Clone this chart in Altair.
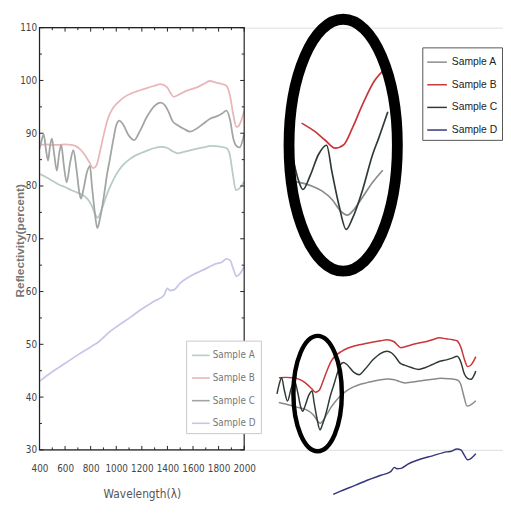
import altair as alt
import pandas as pd

# ---------------- data ----------------
series_names = ["Sample A", "Sample B", "Sample C", "Sample D"]

wl_a = [400, 450, 500, 550, 600, 650, 700, 750, 780, 810, 835, 855, 875, 900, 930, 960,
        1000, 1050, 1100, 1150, 1200, 1250, 1300, 1350, 1400, 1440, 1480, 1520, 1600,
        1680, 1740, 1800, 1860, 1885, 1910, 1935, 1960, 2000]
val_a = [82.3, 81.7, 81.0, 80.3, 79.8, 79.2, 78.7, 78.1, 77.4, 76.2, 74.6, 74.0, 74.8, 76.5,
         78.6, 80.3, 82.2, 83.9, 85.0, 85.8, 86.3, 86.8, 87.2, 87.4, 87.2, 86.6, 86.2, 86.4,
         86.9, 87.3, 87.6, 87.5, 87.2, 86.2, 82.5, 79.2, 79.5, 80.8]

wl_b = [400, 450, 500, 550, 600, 650, 680, 720, 760, 790, 819, 845, 870, 900, 935, 970,
        1012, 1060, 1113, 1180, 1244, 1300, 1345, 1398, 1425, 1449, 1480, 1527, 1580, 1630,
        1680, 1732, 1780, 1830, 1861, 1890, 1915, 1939, 1960, 2000]
val_b = [87.8, 87.9, 87.8, 87.8, 87.9, 87.8, 87.6, 86.9, 85.7, 84.5, 83.4, 83.9, 86.2, 89.5,
         92.8, 94.6, 95.8, 96.8, 97.5, 98.1, 98.6, 99.0, 99.3, 98.7, 97.6, 96.9, 97.2, 97.8,
         98.3, 98.7, 99.3, 99.9, 99.6, 99.3, 99.0, 97.0, 93.5, 91.2, 91.5, 94.2]

wl_c = [400, 415, 433, 450, 467, 482, 497, 515, 536, 553, 570, 590, 613, 640, 665, 690,
        710, 724, 745, 770, 794, 810, 830, 852, 870, 900, 930, 948, 975, 1000, 1025, 1050,
        1100, 1141, 1180, 1244, 1300, 1347, 1380, 1410, 1440, 1475, 1530, 1578, 1630, 1681,
        1730, 1784, 1830, 1861, 1890, 1915, 1939, 1964, 2000]
val_c = [87.0, 88.5, 89.8, 87.0, 84.8, 87.5, 89.0, 86.0, 82.9, 86.0, 87.8, 84.0, 80.7, 84.5,
         86.8, 83.0, 79.0, 77.6, 79.5, 82.5, 83.8, 80.0, 75.5, 72.0, 73.5, 77.5, 82.5, 84.8,
         88.5, 91.5, 92.4, 91.8, 89.5, 88.7, 90.2, 93.3, 95.2, 95.8, 95.3, 94.0, 92.3, 91.6,
         90.8, 90.3, 90.9, 91.8, 92.7, 93.2, 93.8, 94.3, 92.5, 89.0, 87.6, 87.3, 89.8]

wl_d = [400, 500, 601, 700, 800, 858, 950, 1000, 1115, 1200, 1300, 1373, 1400, 1420, 1450,
        1500, 1578, 1681, 1784, 1820, 1861, 1890, 1915, 1939, 1960, 2000]
val_d = [43.0, 44.8, 46.4, 48.0, 49.5, 50.4, 52.4, 53.3, 55.2, 56.7, 58.2, 59.3, 60.6, 60.2,
         60.3, 61.6, 62.9, 64.1, 65.3, 65.5, 66.2, 65.9, 64.3, 62.9, 63.2, 64.7]

x_ticks = [400, 600, 800, 1000, 1200, 1400, 1600, 1800, 2000]
x_minor = [500, 700, 900, 1100, 1300, 1500, 1700, 1900]
y_ticks = [30, 40, 50, 60, 70, 80, 90, 100, 110]
y_minor = [35, 45, 55, 65, 75, 85, 95, 105]

x_domain = [400, 2000]
y_domain = [30, 110]
inset_x_domain = [690, 975]
inset_y_domain = [70, 100]
lower_min_wl = 525
lower_min_wl_d = 950

# highlighted region (ellipse centres, in data units of each panel)
ring_wl = [843]
ring_val = [83.8]
ring2_wl = [835]
ring2_val = [83.0]

# ---------------- layout / style ----------------
PLOT_W, PLOT_H = 471, 429
MAIN_X_RANGE = [0, 208]
MAIN_Y_RANGE = [429, 0]
INSET_X_RANGE = [256, 354]
INSET_Y_RANGE = [219.5, 2]
LOWER_X_RANGE = [222.6, 443.4]
LOWER_Y_RANGE = [549.3, 281.3]

faint_colors = ["#b7cdc1", "#e8b7ba", "#a2a6a2", "#c6c6e9"]
dark_colors = ["#8a8a8a", "#c9353a", "#2e3a32", "#36367c"]
NARROW = "Liberation Sans Narrow, DejaVu Sans Condensed, Liberation Sans, sans-serif"
SANS = "Liberation Sans, Arial, sans-serif"

rows = []
for name, wls, vals in zip(series_names, [wl_a, wl_b, wl_c, wl_d], [val_a, val_b, val_c, val_d]):
    for w, v in zip(wls, vals):
        rows.append({"series": name, "wl": w, "val": v})
df = pd.DataFrame(rows)


def sx(dom, rng):
    return alt.Scale(domain=dom, range=rng, nice=False, zero=False)


sx_main = sx(x_domain, MAIN_X_RANGE)
sy_main = sx(y_domain, MAIN_Y_RANGE)
sx_in = sx(inset_x_domain, INSET_X_RANGE)
sy_in = sx(inset_y_domain, INSET_Y_RANGE)
sx_lo = sx(x_domain, LOWER_X_RANGE)
sy_lo = sx(y_domain, LOWER_Y_RANGE)

# ---------------- main panel ----------------
main_lines = alt.Chart(df).mark_line(strokeWidth=1.8, interpolate="monotone").encode(
    x=alt.X("wl:Q", scale=sx_main,
            axis=alt.Axis(values=x_ticks, format="d", ticks=False, tickSize=0, domain=False,
                          grid=False, labelFlush=False, labelOverlap=False,
                          labelFont=NARROW, labelFontSize=10, labelColor="#444",
                          labelPadding=14, title="Wavelength(λ)", titleFont=NARROW,
                          titleFontSize=12, titleFontWeight="normal", titleColor="#555",
                          titleX=104, titleY=44, titleAlign="center",
                          titleBaseline="middle")),
    y=alt.Y("val:Q", scale=sy_main,
            axis=alt.Axis(values=y_ticks, format="d", ticks=False, tickSize=0, domain=False,
                          grid=False, labelFlush=False, labelOverlap=False,
                          labelFont=NARROW, labelFontSize=10, labelColor="#444",
                          labelPadding=3, title="Reflectivity(percent)", titleFont=SANS,
                          titleFontSize=12, titleFontWeight="bold", titleColor="#777",
                          titleX=-20, titleY=216, titleAlign="center",
                          titleBaseline="middle")),
    color=alt.Color("series:N", scale=alt.Scale(domain=series_names, range=faint_colors),
                    legend=alt.Legend(orient="none", legendX=149, legendY=318, title=None,
                                      symbolType="stroke", symbolSize=324,
                                      symbolStrokeWidth=1.6, labelFont=NARROW,
                                      labelFontSize=10, labelColor="#777", labelOffset=2,
                                      rowPadding=8, padding=5, strokeColor="#c8c8c8",
                                      fillColor="white")),
)

frame_df = pd.DataFrame({"x0": [x_domain[0]], "x1": [x_domain[1]],
                         "y0": [y_domain[0]], "y1": [y_domain[1]]})
frame = alt.Chart(frame_df).mark_rect(fillOpacity=0, stroke="#222", strokeWidth=1.2).encode(
    x=alt.X("x0:Q", scale=sx_main, axis=None), x2="x1:Q",
    y=alt.Y("y0:Q", scale=sy_main, axis=None), y2="y1:Q",
)

px_per_val = (MAIN_Y_RANGE[0] - MAIN_Y_RANGE[1]) / (y_domain[1] - y_domain[0])
px_per_wl = (MAIN_X_RANGE[1] - MAIN_X_RANGE[0]) / (x_domain[1] - x_domain[0])
MAJOR, MINOR = 4.0, 2.5
vt, ht = [], []
for ticks, ln in ((x_ticks, MAJOR), (x_minor, MINOR)):
    for t in ticks:
        vt.append({"x": t, "y": y_domain[0], "y2": y_domain[0] + ln / px_per_val})
        vt.append({"x": t, "y": y_domain[1], "y2": y_domain[1] - ln / px_per_val})
for ticks, ln in ((y_ticks, MAJOR), (y_minor, MINOR)):
    for t in ticks:
        ht.append({"y": t, "x": x_domain[0], "x2": x_domain[0] + ln / px_per_wl})
        ht.append({"y": t, "x": x_domain[1], "x2": x_domain[1] - ln / px_per_wl})
vt_df, ht_df = pd.DataFrame(vt), pd.DataFrame(ht)
vticks = alt.Chart(vt_df).mark_rule(color="#222", strokeWidth=1).encode(
    x=alt.X("x:Q", scale=sx_main, axis=None),
    y=alt.Y("y:Q", scale=sy_main, axis=None), y2="y2:Q")
hticks = alt.Chart(ht_df).mark_rule(color="#222", strokeWidth=1).encode(
    x=alt.X("x:Q", scale=sx_main, axis=None), x2="x2:Q",
    y=alt.Y("y:Q", scale=sy_main, axis=None))

# ---------------- magnified inset (top right) ----------------
inset_filter = (f"datum.wl >= {inset_x_domain[0]} && datum.wl <= {inset_x_domain[1]} "
                f"&& datum.series != '{series_names[3]}'")
inset_lines = alt.Chart(df).transform_filter(inset_filter).mark_line(
    strokeWidth=1.7, interpolate="monotone").encode(
    x=alt.X("wl:Q", scale=sx_in, axis=None),
    y=alt.Y("val:Q", scale=sy_in, axis=None),
    color=alt.Color("series:N", scale=alt.Scale(domain=series_names, range=dark_colors),
                    legend=alt.Legend(orient="none", legendX=389, legendY=20, title=None,
                                      symbolType="stroke", symbolSize=400,
                                      symbolStrokeWidth=1.5, labelFont=SANS,
                                      labelFontSize=10.5, labelColor="#222", labelOffset=4,
                                      rowPadding=6, padding=4, strokeColor="#555",
                                      fillColor="white")),
)


def ellipse_path(a):
    k = 0.5523 * a
    return (f"M0,-1C{k:.4f},-1,{a},-0.5523,{a},0C{a},0.5523,{k:.4f},1,0,1"
            f"C{-k:.4f},1,{-a},0.5523,{-a},0C{-a},-0.5523,{-k:.4f},-1,0,-1Z")


ring_df = pd.DataFrame({"wl": ring_wl, "val": ring_val})
big_ring = alt.Chart(ring_df).mark_point(
    shape=ellipse_path(0.43), size=65536, filled=False, color="black", strokeWidth=11,
    opacity=1
).encode(x=alt.X("wl:Q", scale=sx_in, axis=None), y=alt.Y("val:Q", scale=sy_in, axis=None))

# ---------------- overview (bottom right) ----------------
lower_filter = (f"datum.wl >= {lower_min_wl} && (datum.series != '{series_names[3]}' "
                f"|| datum.wl >= {lower_min_wl_d})")
lower_lines = alt.Chart(df).transform_filter(lower_filter).mark_line(
    strokeWidth=1.5, interpolate="monotone").encode(
    x=alt.X("wl:Q", scale=sx_lo, axis=None),
    y=alt.Y("val:Q", scale=sy_lo, axis=None),
    color=alt.Color("series:N", scale=alt.Scale(domain=series_names, range=dark_colors),
                    legend=None),
)
ring2_df = pd.DataFrame({"wl": ring2_wl, "val": ring2_val})
small_ring = alt.Chart(ring2_df).mark_point(
    shape=ellipse_path(0.42), size=13736, filled=False, color="black", strokeWidth=4.5,
    opacity=1
).encode(x=alt.X("wl:Q", scale=sx_lo, axis=None), y=alt.Y("val:Q", scale=sy_lo, axis=None))

chart = alt.layer(
    main_lines, frame, vticks, hticks, inset_lines, big_ring, lower_lines, small_ring
).resolve_scale(x="independent", y="independent", color="independent").resolve_legend(
    color="independent"
).properties(
    width=PLOT_W, height=PLOT_H,
    autosize=alt.AutoSizeParams(type="none"),
    padding={"left": 32, "top": 16, "right": 0, "bottom": 51},
).configure_view(strokeWidth=0).configure(background="white")

chart.save("out.html", embed_options={"renderer": "svg", "actions": False})
